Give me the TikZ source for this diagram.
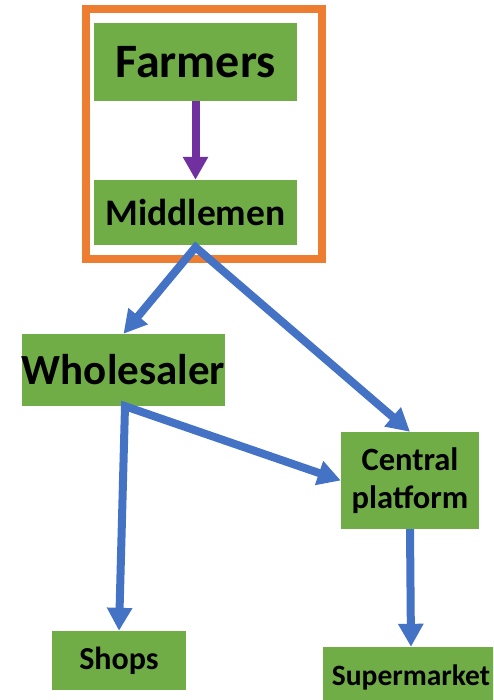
\documentclass[tikz,border=0pt]{standalone}
\usepackage{fontspec}
\setmainfont{Carlito}
\usetikzlibrary{arrows.meta}
\definecolor{boxgreen}{HTML}{70AD47}
\definecolor{frameorange}{HTML}{ED7D31}
\definecolor{flowblue}{HTML}{4472C4}
\definecolor{flowpurple}{HTML}{7030A0}
\tikzset{
  stage/.style={fill=boxgreen, inner sep=0pt, align=center, font=\bfseries},
  flow/.style={draw=flowblue, line width=8pt, line join=miter},
}
\newcommand{\fs}[1]{\fontsize{#1}{#1}\selectfont}
\begin{document}
\begin{tikzpicture}[x=1pt, y=-1pt]
  \clip (0,0) rectangle (493,700);
  \fill[white] (0,0) rectangle (493,700);

  % supply chain stages
  \node[stage, minimum width=203pt, minimum height=78pt, font=\bfseries\fs{48}] (farm) at (195.5,62) {Farmers};
  \node[stage, minimum width=203pt, minimum height=65pt, font=\bfseries\fs{37.5}] (mid) at (195.5,212.5) {Middlemen};
  \node[stage, minimum width=203pt, minimum height=72pt, font=\bfseries\fs{43}] (who) at (123.5,370) {Wholesaler};
  \node[stage, minimum width=138pt, minimum height=97pt, font=\bfseries\fontsize{32.5}{38}\selectfont] (cp) at (410,480.5) {Central\\platform};
  \node[stage, minimum width=134pt, minimum height=59pt, font=\bfseries\fs{32}] (shop) at (119,660.5) {Shops};
  \node[stage, minimum width=176pt, minimum height=60pt, font=\bfseries\fs{29.5}] (sup) at (411,677) {Supermarket};

  % frame round the farm-side stages
  \coordinate (frameA) at (86,9);
  \coordinate (frameB) at (322,259);
  \draw[frameorange, line width=8pt] (frameA) rectangle (frameB);

  % flows
  \draw[flowpurple, line width=8pt, -{Triangle[width=24pt, length=23pt]}] (farm.south) -- (mid.north);
  \draw[flow, {Triangle[width=24pt, length=23pt]}-{Triangle[width=24pt, length=23pt]}] (who.north) -- ([yshift=-2pt]mid.south) -- (cp.north);
  \draw[flow, {Triangle[width=24pt, length=23pt]}-{Triangle[width=24pt, length=23pt]}] (shop.north) -- ([xshift=1.5pt]who.south) -- (cp.west);
  \draw[flow, -{Triangle[width=24pt, length=23pt]}] (cp.south) -- (sup.north);
\end{tikzpicture}
\end{document}
